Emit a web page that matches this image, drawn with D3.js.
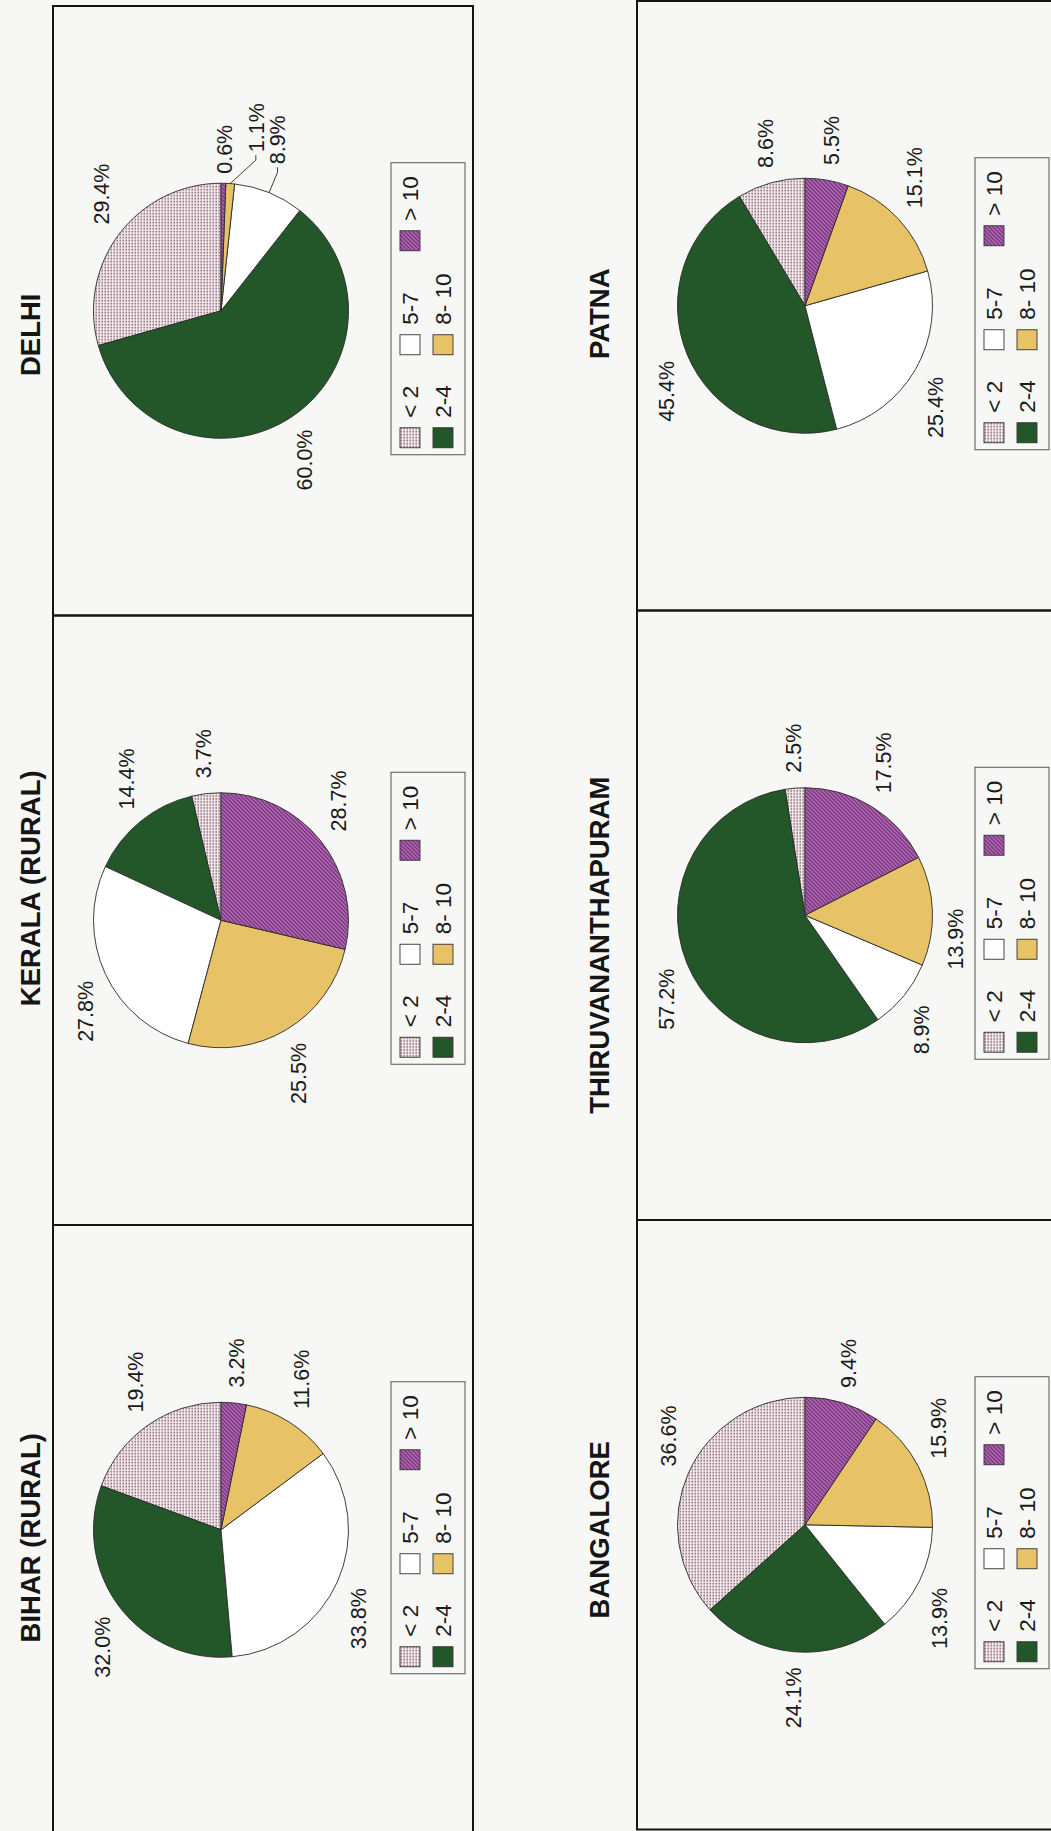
<!DOCTYPE html>
<html>
<head>
<meta charset="utf-8">
<script src="https://cdn.jsdelivr.net/npm/d3@7"></script>
<style>
  body { margin: 0; background: #f7f7f5; }
  svg { display: block; font-family: "Liberation Sans", Arial, sans-serif; }
</style>
</head>
<body>
<div id="app"></div>
<script>
// categories (legend order) and region titles
const categories = ["< 2", "2-4", "5-7", "8- 10", "> 10"];
const regions = ["DELHI", "KERALA (RURAL)", "BIHAR (RURAL)", "PATNA", "THIRUVANANTHAPURAM", "BANGALORE"];

// shares in percent, same order as categories
const delhi     = [29.4, 60.0, 8.9, 1.1, 0.6];
const kerala    = [3.7, 14.4, 27.8, 25.5, 28.7];
const bihar     = [19.4, 32.0, 33.8, 11.6, 3.2];
const patna     = [8.6, 45.4, 25.4, 15.1, 5.5];
const thiru     = [2.5, 57.2, 8.9, 13.9, 17.5];
const bangalore = [36.6, 24.1, 13.9, 15.9, 9.4];
const shares = [delhi, kerala, bihar, patna, thiru, bangalore];

// page layout (the whole sheet is turned 90deg, each panel is drawn upright then rotated)
const width = 1051, height = 1831;
const colX = [53, 637];
const rowTop = [[6, 615.5, 1225], [1, 610.5, 1220]];
const panelLen = 609.5, panelDepth = 420;
const titleV = [-23, -38];
const titleShift = [-24, 32, -8, -8, -30, -5];
const radius = 127.5, pieV = 168;
const labelRx = 143, labelRy = 150;
// hand placed labels for crowded slices: key "panel-slice"
const labelNudge = { "0-4": [-6, 0], "0-3": [16, 24], "0-2": [14, 0], "4-3": [-33, 0] };
const leaders = ["0-3", "0-2"];

const svg = d3.select('#app')
  .append('svg')
  .attr('width', width)
  .attr('height', height);

svg.append('rect').attr('width', width).attr('height', height).attr('fill', '#f7f7f5');

const defs = svg.append('defs');
const dots = defs.append('pattern')
  .attr('id', 'dots')
  .attr('patternUnits', 'userSpaceOnUse')
  .attr('width', 3).attr('height', 3);
dots.append('rect').attr('width', 3).attr('height', 3).attr('fill', '#f5e6eb');
dots.append('rect').attr('x', 0.5).attr('y', 0.5).attr('width', 1.4).attr('height', 1.4).attr('fill', '#6a525c');

const hatch = defs.append('pattern')
  .attr('id', 'hatch')
  .attr('patternUnits', 'userSpaceOnUse')
  .attr('width', 4).attr('height', 4);
hatch.append('rect').attr('width', 4).attr('height', 4).attr('fill', '#b866ba');
hatch.append('path')
  .attr('d', 'M-1,1 L1,-1 M0,4 L4,0 M3,5 L5,3')
  .attr('stroke', '#5e2c62')
  .attr('stroke-width', 1.1);

const color = d3.scaleOrdinal()
  .domain(categories)
  .range(['url(#dots)', '#235628', '#ffffff', '#e7c266', 'url(#hatch)']);

// start at 3 o'clock, run counter-clockwise
const pie = d3.pie()
  .sort(null)
  .startAngle(Math.PI / 2)
  .endAngle(Math.PI / 2 - 2 * Math.PI);
const arc = d3.arc().innerRadius(0).outerRadius(radius);
const fmt = d => d3.format('.1f')(d) + '%';

regions.forEach((name, i) => {
  const col = i < 3 ? 0 : 1;
  const row = i % 3;
  const x0 = colX[col];
  const y0 = rowTop[col][row];
  const cu = panelLen / 2;

  const g = svg.append('g')
    .attr('transform', `translate(${x0},${y0 + panelLen}) rotate(-90)`);

  g.append('rect')
    .attr('width', panelLen)
    .attr('height', panelDepth)
    .attr('fill', 'none')
    .attr('stroke', '#151515')
    .attr('stroke-width', 2);

  g.append('text')
    .attr('x', cu + titleShift[i])
    .attr('y', titleV[col])
    .attr('dy', '0.36em')
    .attr('text-anchor', 'middle')
    .attr('font-size', 27.5)
    .attr('font-weight', 'bold')
    .attr('fill', '#151515')
    .text(name);

  const arcs = pie(shares[i])
    .map((a, k) => Object.assign(a, { cat: categories[k], key: i + '-' + k }));

  const pg = g.append('g').attr('transform', `translate(${cu},${pieV})`);

  pg.selectAll('path.slice')
    .data(arcs)
    .enter()
    .append('path')
    .attr('class', 'slice')
    .attr('d', arc)
    .attr('fill', d => color(d.cat))
    .attr('stroke', '#2a2a2a')
    .attr('stroke-width', 0.9)
    .attr('stroke-linejoin', 'round');

  pg.selectAll('text.pct')
    .data(arcs)
    .enter()
    .append('text')
    .attr('class', 'pct')
    .attr('font-size', 21.5)
    .attr('fill', '#1a1a1a')
    .attr('text-anchor', 'middle')
    .attr('dy', '0.36em')
    .text(d => fmt(d.value))
    .each(function (d) {
      const a = (d.startAngle + d.endAngle) / 2;
      const w = this.getComputedTextLength();
      const shift = Math.max(-1, Math.min(1, 4 * Math.sin(a))) * w / 2;
      const nudge = labelNudge[d.key] || [0, 0];
      const lx = labelRx * Math.sin(a) + shift + nudge[0];
      const ly = -labelRy * Math.cos(a) + nudge[1];
      d3.select(this).attr('x', lx).attr('y', ly);
      if (leaders.includes(d.key)) {
        const ex = radius * Math.sin(a), ey = -radius * Math.cos(a);
        const left = lx - w / 2;
        pg.append('path')
          .attr('d', `M${ex},${ey} L${left - 8},${ly} L${left - 3},${ly}`)
          .attr('fill', 'none')
          .attr('stroke', '#2a2a2a')
          .attr('stroke-width', 0.9);
      }
    });

  // legend
  const colOff = [7, 100, 204], rowOff = [9, 42];
  const lg = g.append('g').attr('transform', `translate(${cu - 144},${pieV + 170})`);
  lg.append('rect')
    .attr('width', 292)
    .attr('height', 74)
    .attr('fill', 'none')
    .attr('stroke', '#555')
    .attr('stroke-width', 1);

  const item = lg.selectAll('g.item')
    .data(categories)
    .enter()
    .append('g')
    .attr('class', 'item')
    .attr('transform', (d, k) => `translate(${colOff[Math.floor(k / 2)]},${rowOff[k % 2]})`);

  item.append('rect')
    .attr('width', 20)
    .attr('height', 20)
    .attr('fill', d => color(d))
    .attr('stroke', '#333')
    .attr('stroke-width', 0.9);

  item.append('text')
    .attr('x', 30)
    .attr('y', 10)
    .attr('dy', '0.36em')
    .attr('font-size', 22.5)
    .attr('fill', '#1a1a1a')
    .text(d => d);
});
</script>
</body>
</html>
